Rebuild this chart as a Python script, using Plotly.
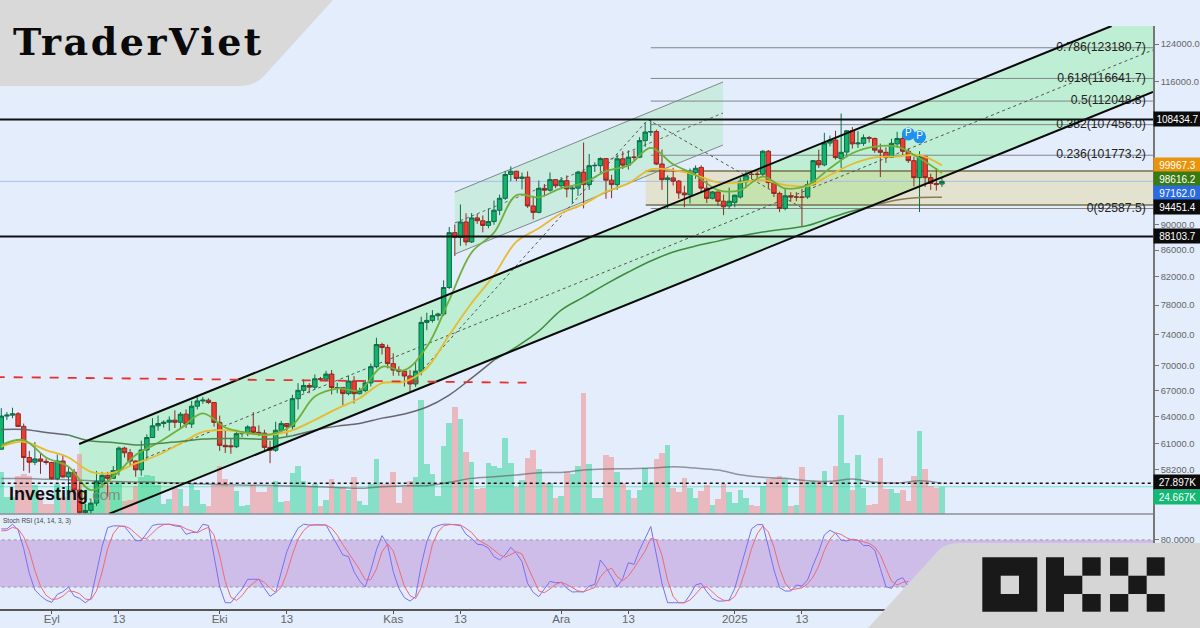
import math
import pandas as pd
import plotly.graph_objects as go

# daily candles, 2024-08-23 .. 2025-02-07
dates = [d.strftime("%Y-%m-%d") for d in pd.date_range("2024-08-23", periods=169)]

opens = [60380,64040,64150,64300,62880,59500,59000,59350,59100,58970,
57300,59130,57480,57970,56160,53950,54160,54870,57050,57640,
57340,58130,60500,60000,59130,58210,60300,61650,62940,63200,
63350,63580,63340,64260,63140,65180,65790,65880,65600,63330,
60800,60750,60650,62070,62060,62820,62220,62130,60580,60270,
62450,63190,62850,66050,67040,67620,67420,68430,68370,69000,
67360,67360,66650,68160,66640,67010,67930,69910,72720,72340,
70290,69490,69370,68770,67800,69370,75640,75900,76540,76770,
80470,88700,87950,90400,87250,91060,90600,89850,90470,92310,
94290,98350,98920,97670,97900,93010,91950,95960,95650,97460,
96400,97280,95860,96000,98770,96600,99900,99900,101170,97370,
96600,101130,100000,101420,101420,104450,106050,106140,100200,97460,
97760,97200,95170,94860,98690,99600,96000,94280,95350,93800,
93000,93600,94500,97050,98400,98400,98400,102500,96950,95100,
92600,94700,94500,94500,94500,96600,100800,100050,104000,104550,
101150,102350,106300,103850,103950,105000,104850,102700,102300,101400,
103850,104850,102500,100800,97800,101550,97800,96800,96700]
closes = [64040,64150,64300,62880,59500,59000,59350,59100,58970,57300,
59130,57480,57970,56160,53950,54160,54870,57050,57640,57340,
58130,60500,60000,59130,58210,60300,61650,62940,63200,63350,
63580,63340,64260,63140,65180,65790,65880,65600,63330,60800,
60650,60650,62070,62090,62820,62220,62130,60580,60270,62450,
63190,62850,66050,67040,67620,67420,68430,68370,69000,67370,
67370,66650,68160,66640,67010,67930,69910,72720,72340,70290,
69490,69370,68770,67800,69370,75640,75900,76540,76770,80470,
88700,87950,90400,87250,91060,90600,89850,90470,92310,94290,
98350,98920,97670,97900,93010,91950,95960,95650,97460,96400,
97280,95860,96000,98770,96600,99900,99950,101170,97370,96600,
101130,100000,101420,101400,104450,106050,106140,100200,97460,97760,
97200,95170,94860,98690,99450,96000,94280,95350,93800,92870,
93800,94800,97200,98250,98350,98380,102500,96950,95100,92600,
94700,94500,94500,94450,96600,100800,100050,104000,104550,101350,
102300,106300,103850,104000,105000,104900,102700,102300,101400,103950,
104850,102500,100800,97800,101500,97800,96800,96600,97162]
highs = [64950,64500,65000,64500,63200,60200,61150,59900,59400,59050,
59800,59800,58500,58300,57000,54800,55300,58100,58000,58000,
58600,60670,60650,60400,59200,61300,62000,63800,64100,63550,
64000,64700,64500,64800,65800,66500,66250,66100,65650,64100,
62400,61500,62500,62370,63000,64500,63000,62500,61300,63400,
63500,63250,66500,67900,68400,67900,68950,68650,69400,69500,
67950,67450,68800,68750,67350,68300,70300,73600,72950,72700,
71600,69950,69450,69500,70500,76400,76950,77300,76950,81500,
89600,90000,93250,91800,91850,91700,91450,92600,93900,94900,
98950,99800,99000,98700,98900,94700,97300,96700,98700,97500,
97900,98200,96500,99000,104100,102000,100500,101400,101200,98300,
101900,102500,102650,102650,105100,107800,108350,106500,102800,98200,
99550,97400,96400,99400,99950,99960,97300,95500,95350,94900,
96100,94900,97800,98900,98950,98800,102700,102700,97250,95400,
95850,95300,95300,95900,97300,100900,102800,105900,105400,106300,
109600,106400,107000,106200,105600,105300,105000,103900,103200,104800,
106100,105900,103000,101500,102500,101700,98500,99500,97800]
lows = [60360,63600,63800,62800,58100,57900,58700,57800,58750,57200,
57150,57400,55600,55700,52500,53750,53650,54600,56400,55500,
57300,57650,59500,58700,57500,57600,59200,61600,62400,62750,
62400,62700,62700,62700,62700,64800,65450,65450,62850,60200,
59980,59900,60500,61700,61800,62150,61800,60300,58900,60100,
62400,61800,62450,64800,66750,66700,67150,68150,68100,66550,
66700,65300,66450,65500,66550,66800,67500,69700,71450,69700,
68800,68800,67500,66800,67450,68850,74600,75600,75900,76500,
80250,85100,86650,86700,87100,90100,88750,89400,89950,91500,
94000,97200,97200,95800,92700,90800,91800,94600,95400,96000,
95800,94450,93500,94700,92600,95700,98800,98900,94200,94300,
95700,99300,99200,100600,101250,103300,105300,100000,95700,92600,
96450,94200,92800,93400,97600,95200,93500,94100,93000,91500,
92500,92800,94250,96000,97500,97600,97900,96000,94500,92000,
92300,93800,93800,89700,94200,96400,99500,99800,103400,101000,
99500,101400,103000,103100,103500,104100,102200,97900,100400,101300,
103200,101800,100400,96300,92000,96200,95700,95600,96200]
# thousands
volumes = [37.6,15,15.7,34.6,36,34.6,26.5,18,9,9,
27,15,25.6,22.6,54.2,9,6,30,28.6,26.5,
27,30,12,12.6,25.6,33,35,34,26.5,9,
13.5,23.2,22.6,7.5,27,22,9,7.5,26.5,43.3,
31.6,25.6,21,7.5,8.4,26.2,19.6,19.6,24,30,
11,12,37,43.3,30.1,25,27.1,7.5,12.6,31.6,
24,24.7,22,33.7,11.4,8.4,27.1,49.7,27.1,27.1,
37.6,9.9,24.7,30.1,33.1,103.2,45.2,36.1,16.6,61.7,
82.2,96.9,85.8,56.3,47.3,22.6,23.5,46,43.3,41.5,
68.9,45.8,24.7,30.7,50.3,57.8,40.6,27.7,27.7,14.1,
16.6,38.2,36.1,43.3,109,45.2,14.4,14.1,53.3,51.2,
37.6,28,22,14.1,22,41.5,28,49.7,55.1,62.3,
23.5,19.6,32.2,23.5,14.1,21,26.2,8.1,13.5,27.1,
19.6,10.2,22,14.4,8.4,7.5,25,31.6,32.5,34.6,
31.6,7.2,8.4,42.7,28.6,30.1,28.6,38.8,25,43.6,
89.4,45.8,22,53.6,23.8,8.4,9.3,50.6,22.3,22.9,
19.3,22,12,34.6,75.3,40.3,25.6,23.8,24.667]

# averages read every fourth day
ema_fast = [60830,61370,59500,58530,56150,57500,59760,61080,62650,64350,
62760,62170,61990,63020,66300,67250,67050,69900,69480,72430,
78690,85640,88700,94800,94450,96000,96900,98950,99950,103100,
100150,98260,95670,95670,97970,95960,96530,99440,102130,103330,
103330,101220,98616.2]
ema_slow = [60650,61190,60290,59500,58010,57910,58880,59760,61010,62280,
62460,62100,61920,62460,63600,64900,66100,67900,68070,69750,
73960,78280,82250,87290,89380,91800,93320,95380,96820,99260,
99100,98260,96990,96990,97390,96530,96360,98260,100200,101400,
101530,101800,99967.3]
ma_long = [62540,62540,62210,61920,61260,61120,60830,61010,61220,61480,
61550,61520,61480,61850,62460,62910,63200,63810,64270,65080,
66480,68510,70740,72420,74470,77310,79110,80960,82710,84350,
85700,86610,87380,88170,88800,89280,89830,91030,92170,93090,
94000,94410,94451.4]
vol_ma = [32,32,31.5,31,30,29.3,29,28.7,28,27,
26.5,26,25.8,25.3,24.7,24,23.2,24.7,25.6,25.6,
28.6,32.2,33.7,35.2,37.3,37.6,39.7,40.6,40.9,41.5,
42.7,41.5,39.7,35.5,33.1,32.2,30.1,29.5,31.6,28.6,
28,30.1,27.897]

stoch_k = [94,94,100,92.8,69,37.5,16.2,9,3.4,0.4,
10.6,14,20,8.5,5.5,0,5.5,39.6,71.5,95.7,
97.9,97.9,97,88.5,79,79,88.5,98.3,100,100,
100,97.9,97,87.2,89.4,89.8,100,98.3,60.9,20.4,
0,0,8.9,17.5,29.8,29.8,29.8,18.3,8.1,12.8,
37.5,65.1,82,94.9,100,99,99,99,99,86.4,
73.6,60.9,58.7,39.6,27.7,20,41.7,67.2,85.5,73.6,
39.6,18.3,6.4,2.1,7.7,48,77.9,94.9,98.3,100,
100,99,98.3,87.2,82,74.5,73.6,69.4,58.7,54.5,
60.9,70.6,63,52.3,24.7,13.2,7.7,17.5,27.2,25.5,
26,18.3,13.6,14,13.6,21.3,23.4,54.5,45,33.2,
20,31,51,48.9,67.2,82,97,60.9,24.7,0,
0,0,0,9.8,22.6,24.7,14,5.5,2.1,2.1,
3.4,18.3,43.8,69.4,94,99.5,99.5,71.5,41.7,19.2,
14.9,14.9,22.6,21.3,28.9,48,65.1,86.4,92.3,88.5,
79.6,78.7,80.9,79.6,72.8,72.8,67.2,43.8,20.4,18.3,
28.9,31.9,20.4]
stoch_d = [91.5,92,96,94,84,66,41,21,9.5,4.3,
4.8,8.3,14.9,14.2,11.3,4.7,3.7,15,39,69,
88,97,97.6,94.5,88,82,82,88.6,95.6,99.4,
100,99,98,94,91,89,93,96,86,60,
27,7,3,9,18.7,25,30,26,19,13,
19.4,38,61.5,81,92,98,99.5,99,99,95,
86,74,64,53,42,29,29.5,43,65,75,
66,44,21,9,5.4,19,44,74,90,98,
99.4,99.7,99,94.7,89.5,81,77,72.5,67,61,
58,62,65,62,46.7,30,15,12.8,17.5,23.4,
26,23.3,19.3,15,14,16.3,19.4,33,41,44,
33,28,34,44,55.7,66,82,80,60.5,28.5,
8,0,0,3.3,10.8,19,20.4,14,7.2,3.2,
2.5,7.9,21.8,43.8,69,87.5,97.7,90,71,44,
25,16.3,17.5,19,24,33,47,66.5,81,89,
87,82.6,79.8,79.6,77.6,75.5,71,61,43.8,27.5,
22.5,26,27]

price_ticks = [124000,116000,90000,86000,82000,78000,74000,70000,67000,64000,61000,58200]
date_ticks = ["2024-09-01","2024-09-13","2024-10-01","2024-10-13","2024-11-01","2024-11-13",
              "2024-12-01","2024-12-13","2025-01-01","2025-01-13"]
date_labels = ["Eyl","13","Eki","13","Kas","13","Ara","13","2025","13"]
fib_ratios = ["0.786","0.618","0.5","0.382","0.236","0"]
fib_prices = [123180.7,116641.7,112048.8,107456.0,101773.2,92587.5]
side_labels = [("108434.7",119,"#0b0b0b"),("99967.3",165,"#e8940c"),("98616.2",179,"#3a7a12"),
               ("97162.0",193,"#2b6be2"),("94451.4",207,"#0b0b0b"),("88103.7",236,"#0b0b0b"),
               ("27.897K",482,"#0b0b0b"),("24.667K",497,"#12b873")]

BG = "#e3edfc"
FONT = "Liberation Sans"
PLOT_W = 1153
PRICE_TOP = 128030
PRICE_BOTTOM = 53820


def at(i):
    return (pd.Timestamp(dates[0]) + pd.Timedelta(days=i)).strftime("%Y-%m-%d %H:%M")


def pathx(i):
    return at(i).replace(" ", "_")


def paper_x(x):
    return x / 1200


def paper_y(y):
    return 1 - y / 628


X_END = 205.7
every4 = dates[::4]
up = [c >= o for o, c in zip(opens, closes)]

fig = go.Figure()
fig.add_trace(go.Bar(x=dates, y=volumes, yaxis="y", xaxis="x",
                     marker=dict(color=["rgba(41,211,147,.5)" if u else "rgba(241,133,131,.5)" for u in up], line_width=0)))
fig.add_trace(go.Scatter(x=every4, y=vol_ma, yaxis="y", mode="lines", line=dict(color="rgba(90,90,90,.6)", width=1.5, shape="spline")))

fig.add_trace(go.Candlestick(x=dates, open=opens, high=highs, low=lows, close=closes, yaxis="y2", whiskerwidth=0,
                             increasing=dict(line=dict(color="#0d6b48", width=1), fillcolor="#11b36d"),
                             decreasing=dict(line=dict(color="#8c2a22", width=1), fillcolor="#ee3b30")))
fig.add_trace(go.Scatter(x=every4, y=ema_slow, yaxis="y2", mode="lines", line=dict(color="#e8bb2e", width=1.8, shape="spline")))
fig.add_trace(go.Scatter(x=every4, y=ema_fast, yaxis="y2", mode="lines", line=dict(color="#6fb03c", width=1.8, shape="spline")))
# the long average changes tint where it runs through the channel and the zone
for a, b, col in [(0, 4, "#66666e"), (3, 14, "#4a8a4a"), (13, 23, "#66666e"), (22, 40, "#3f8a3f"), (39, 43, "#8a7a58")]:
    fig.add_trace(go.Scatter(x=every4[a:b], y=ma_long[a:b], yaxis="y2", mode="lines", line=dict(color=col, width=1.5, shape="spline")))

fig.add_trace(go.Scatter(x=[at(204.4)] * len(fib_prices), y=fib_prices, yaxis="y2", mode="text", textposition="middle left",
                         text=[f"{r}({p:.1f})" for r, p in zip(fib_ratios, fib_prices)],
                         textfont=dict(family=FONT, size=12.2, color="#222222")))
fig.add_trace(go.Scatter(x=[dates[162], dates[164]], y=[105700, 105150], yaxis="y2", mode="markers+text", text=["P", "P"],
                         textposition="middle center", textfont=dict(family=FONT, size=10, color="white"),
                         marker=dict(size=13, color="#1e90ee")))

fig.add_trace(go.Scatter(x=dates[:163], y=stoch_k, yaxis="y3", mode="lines", line=dict(color="#7c6ef2", width=1)))
fig.add_trace(go.Scatter(x=dates[:163], y=stoch_d, yaxis="y3", mode="lines", line=dict(color="#ee6a78", width=1)))

shapes = []
# channels
shapes.append(dict(type="path", xref="x", yref="y2", layer="below", line_width=0, fillcolor="rgba(134,240,150,.4)",
                   path=f"M {pathx(13.9)} 60940 L {pathx(198.3)} {PRICE_TOP} L {pathx(X_END)} {PRICE_TOP} L {pathx(X_END)} 113870 "
                        f"L {pathx(19.2)} {PRICE_BOTTOM} L {pathx(13.9)} {PRICE_BOTTOM} Z"))
shapes.append(dict(type="path", xref="x", yref="y2", layer="below", line_width=0, fillcolor="rgba(107,232,113,.2)",
                   path=f"M {pathx(81)} 95330 L {pathx(128.9)} 115910 L {pathx(128.9)} 103640 L {pathx(81)} 85390 Z"))
# zone
shapes.append(dict(type="rect", xref="x", yref="y2", layer="below", x0=at(115.1), x1=at(X_END), y0=93150, y1=98950,
                   fillcolor="rgba(224,196,68,.25)", line_width=0))


def seg(i0, p0, i1, p1, color, width=1, dash="solid", layer="below", yref="y2"):
    shapes.append(dict(type="line", xref="x", yref=yref, layer=layer, x0=at(i0), x1=at(i1), y0=p0, y1=p1,
                       line=dict(color=color, width=width, dash=dash)))


seg(115.1, 98950, X_END, 98950, "#77704f", 1.5)
seg(115.1, 93150, X_END, 93150, "#77704f", 1.5)
seg(-1, 97162, X_END, 97162, "#a5bef0", 1)
for p in fib_prices:
    seg(116, p, X_END, p, "#84868a", 1)

seg(81, 95330, 128.9, 115910, "#7d8a85", 1)
seg(81, 85390, 128.9, 103640, "#7d8a85", 1)
seg(81, 90240, 128.9, 109700, "#666666", 1, "dot")
seg(24.8, 59220, X_END, 122690, "#555555", 1, "dot")
seg(73.9, 68510, 115.5, 108430, "#555555", 1, "dot")
seg(115.5, 108430, 143.2, 92587.5, "#555555", 1, "dot")
seg(13.9, 60940, 198.3, PRICE_TOP, "#0a0a0a", 2, layer="above")
seg(19.2, PRICE_BOTTOM, X_END, 113870, "#0a0a0a", 2, layer="above")
seg(-1, 68640, 93.8, 67950, "#e8302a", 1.8, "dash", layer="above")
seg(-1, 108434.7, X_END, 108434.7, "#111111", 2, layer="above")
seg(-1, 88103.7, X_END, 88103.7, "#111111", 2, layer="above")
seg(-1, 24.667, X_END, 24.667, "rgba(100,220,190,.8)", 1, yref="y")
seg(-1, 27.897, X_END, 27.897, "#111111", 1.5, "dot", layer="above", yref="y")
# stoch band
shapes.append(dict(type="rect", xref="x", yref="y3", layer="below", x0=at(-1), x1=at(X_END), y0=20, y1=80,
                   fillcolor="#cfbde9", line_width=0))
seg(-1, 80, X_END, 80, "#9a94a8", 1, "dot", yref="y3")
seg(-1, 20, X_END, 20, "#9a94a8", 1, "dot", yref="y3")
# pane separator
shapes.append(dict(type="line", xref="paper", yref="paper", x0=0, x1=paper_x(PLOT_W), y0=paper_y(514), y1=paper_y(514),
                   line=dict(color="#8c8f96", width=1.5), layer="above"))

# corner badges
shapes.append(dict(type="path", xref="paper", yref="paper", layer="above", line_width=0, fillcolor="#d9d9d9",
                   path="M 0 1 L %.5f 1 L %.5f %.5f Q %.5f %.5f %.5f %.5f L 0 %.5f Z" % (
                       paper_x(333), paper_x(264), paper_y(76), paper_x(255), paper_y(86), paper_x(240), paper_y(86), paper_y(86))))
shapes.append(dict(type="path", xref="paper", yref="paper", layer="above", line_width=0, fillcolor="#d6d6d6",
                   path="M %.5f 0 L %.5f %.5f Q %.5f %.5f %.5f %.5f L 1 %.5f L 1 0 Z" % (
                       paper_x(868), paper_x(938), paper_y(551), paper_x(945), paper_y(543), paper_x(960), paper_y(543), paper_y(543))))
# OKX mark
for x0, y0, x1, y1 in [(982.3, 557.3, 1037.3, 611.7), (1046, 557.3, 1064, 611.7), (1064, 575.7, 1082.3, 594),
                       (1082.3, 557.3, 1100.7, 575.7), (1082.3, 594, 1100.7, 611.7), (1110, 557.3, 1128.3, 575.7),
                       (1110, 594, 1128.3, 611.7), (1128.3, 575.7, 1146.7, 594), (1146.7, 557.3, 1164.7, 575.7),
                       (1146.7, 594, 1164.7, 611.7)]:
    shapes.append(dict(type="rect", xref="paper", yref="paper", layer="above", line_width=0, fillcolor="#191919",
                       x0=paper_x(x0), x1=paper_x(x1), y0=paper_y(y1), y1=paper_y(y0)))
shapes.append(dict(type="rect", xref="paper", yref="paper", layer="above", line_width=0, fillcolor="#d6d6d6",
                   x0=paper_x(1000.7), x1=paper_x(1019), y0=paper_y(594), y1=paper_y(575.7)))

annotations = []
for txt, y, col in side_labels:
    annotations.append(dict(xref="paper", yref="paper", x=paper_x(1153), y=paper_y(y), xanchor="left", yanchor="middle",
                            text=txt, showarrow=False, bgcolor=col, width=45, height=12, borderpad=1, align="center",
                            font=dict(family=FONT, size=10, color="white")))
annotations.append(dict(xref="paper", yref="paper", x=paper_x(11), y=paper_y(42), xanchor="left", yanchor="middle",
                        text="<b><span style='letter-spacing:2.5px'>TraderViet</span></b>", showarrow=False,
                        font=dict(family="DejaVu Serif", size=38, color="#0a0a0a")))
annotations.append(dict(xref="paper", yref="paper", x=paper_x(7), y=paper_y(494), xanchor="left", yanchor="middle",
                        text="<b>Investing</b><span style='color:#7f8f84;font-size:15px'>.com</span>", showarrow=False,
                        font=dict(family=FONT, size=18, color="#111111")))
annotations.append(dict(xref="paper", yref="paper", x=paper_x(1), y=paper_y(521), xanchor="left", yanchor="middle",
                        text="Stoch RSI (14, 14, 3, 3)", showarrow=False, font=dict(family=FONT, size=6.5, color="#444444")))

tickfont = dict(family=FONT, size=9.4, color="#666666")
fig.update_layout(
    width=1200, height=628, autosize=False, showlegend=False, hovermode=False,
    margin=dict(l=0, r=0, t=0, b=0, pad=0, autoexpand=False), paper_bgcolor=BG, plot_bgcolor=BG,
    bargap=0, boxgap=0.12, boxgroupgap=0.1,
    xaxis=dict(domain=[0, PLOT_W / 1200], range=[at(-0.232), at(X_END)], anchor="y3", type="date", rangeslider=dict(visible=False),
               showgrid=False, tickmode="array", tickvals=date_ticks, ticktext=date_labels, ticks="outside", ticklen=3,
               ticklabelstandoff=-5, tickcolor="#555555", showline=True, linecolor="#555555", linewidth=1.5,
               tickfont=dict(family=FONT, size=11.5, color="#666666")),
    yaxis=dict(domain=[paper_y(514), paper_y(26)], range=[0, 441], showgrid=False, zeroline=False, showticklabels=False, anchor="x", side="right"),
    yaxis2=dict(overlaying="y", type="log", range=[math.log10(PRICE_BOTTOM), math.log10(PRICE_TOP)], side="right", anchor="x",
                showgrid=False, zeroline=False, tickmode="array", tickvals=price_ticks, ticktext=[f"{t:.1f}" for t in price_ticks],
                ticks="outside", ticklen=4, tickcolor="#777777", showline=True, linecolor="#777777", linewidth=1.5, tickfont=tickfont),
    yaxis3=dict(domain=[paper_y(609), paper_y(514)], range=[-8, 113], side="right", anchor="x", showgrid=False, zeroline=False,
                tickmode="array", tickvals=[80, 20], ticktext=["80.0000", "20.0000"], ticks="outside", ticklen=4, tickcolor="#777777",
                showline=True, linecolor="#777777", linewidth=1.5, tickfont=tickfont),
    shapes=shapes, annotations=annotations,
)

fig.write_html("out.html", config=dict(displayModeBar=False),
               post_script="document.body.style.margin='0';document.body.style.overflow='hidden';")
